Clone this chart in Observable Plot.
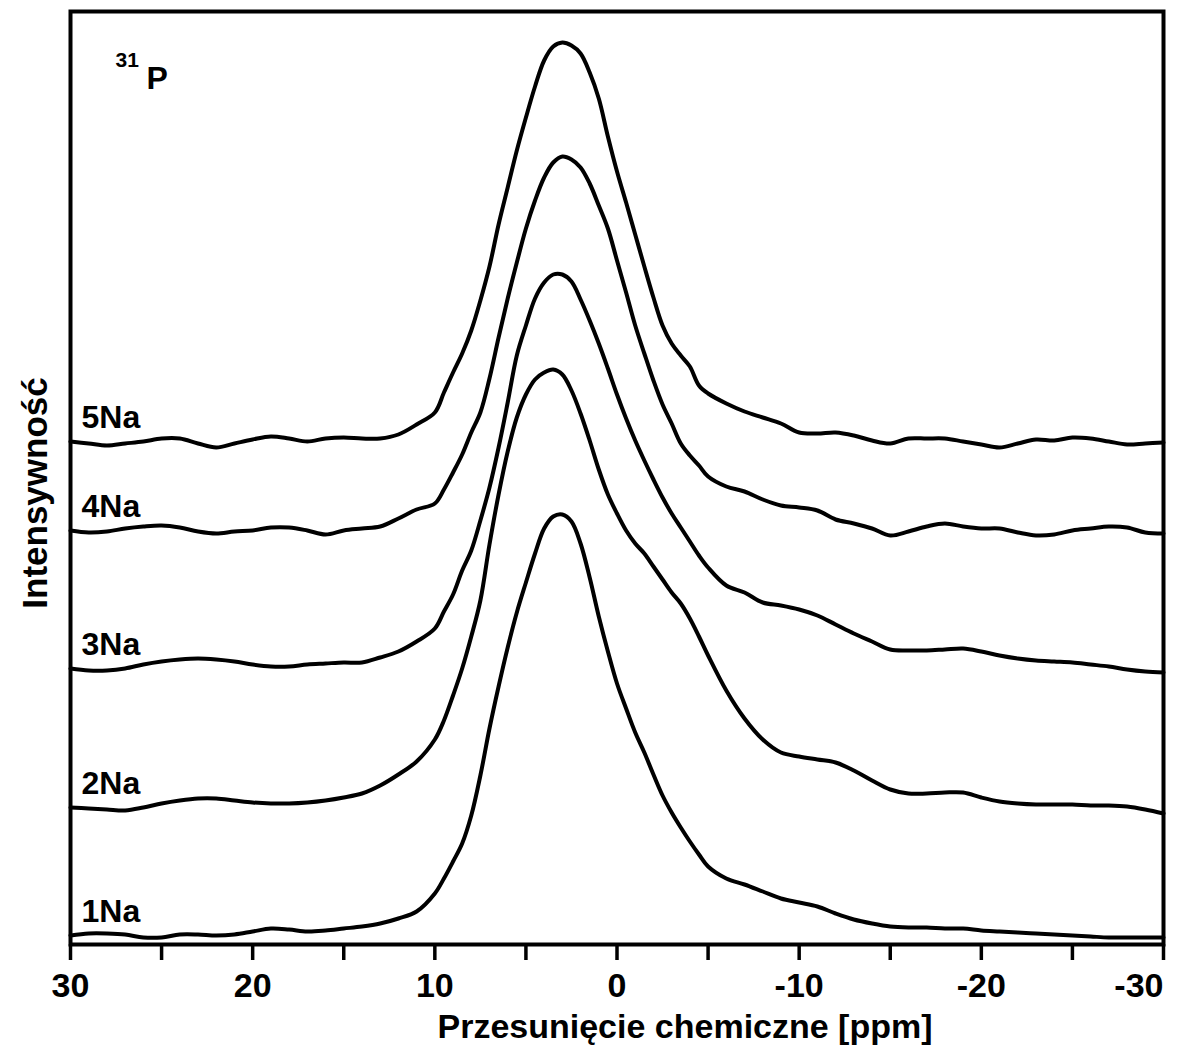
<!DOCTYPE html>
<html>
<head>
<meta charset="utf-8">
<script src="https://cdn.jsdelivr.net/npm/d3@7"></script>
<script src="https://cdn.jsdelivr.net/npm/@observablehq/plot@0.6"></script>
<style>
  body { margin: 0; background: #fff; }
  svg { display: block; }
</style>
</head>
<body>
<div id="chart"></div>
<script>
// Chemical shift grid (ppm)
const ppm = [30,29,28,27,26,25,24,23,22,21,20,19,18,17,16,15,14,13,12,11,10,
  9.5,9,8.5,8,7.5,7,6.5,6,5.5,5,4.5,4,3.5,3,2.5,2,1.5,1,0.5,0,-0.5,-1,-1.5,-2,-2.5,-3,-3.5,-4,-4.5,-5,
  -6,-7,-8,-9,-10,-11,-12,-13,-14,-15,-16,-17,-18,-19,-20,-21,-22,-23,-24,-25,-26,-27,-28,-29,-30];

// Stacked 31P spectra, intensity in arbitrary units (offset included)
const na5 = [503,501,499,501,503,506,506,501,497,501,505,508,506,503,506,507,506,506,510,520,532,
  552,572,591,614,644,678,720,757,794,827,858,884,898,902,899,891,872,846,808,773,742,710,678,647,619,601,589,578,559,551,
  541,533,527,521,512,511,512,509,504,501,506,506,506,503,500,497,501,505,504,507,506,503,500,501,502];
const na4 = [414,412,413,416,418,419,417,413,411,413,414,417,417,414,410,414,416,418,426,435,441,
  455,472,490,512,532,566,607,646,682,716,744,767,782,788,785,777,761,739,716,684,652,619,591,564,540,521,501,489,479,468,
  458,453,445,439,437,434,425,421,416,409,413,418,421,418,416,416,412,409,410,414,416,418,417,412,411];
const na3 = [276,274,274,276,280,283,285,286,285,283,280,278,278,280,281,282,282,287,293,303,316,
  333,350,374,394,424,457,497,542,589,619,646,662,670,670,663,645,624,601,576,550,526,504,484,465,447,431,417,403,389,377,
  359,352,342,339,335,329,320,311,303,295,294,294,295,296,293,289,286,284,283,282,280,278,275,273,272];
const na2 = [137,136,135,134,137,141,144,146,146,144,142,141,141,142,144,147,151,159,170,183,205,
  224,249,276,308,344,400,450,493,527,550,565,572,575,570,554,531,504,475,450,431,414,401,391,378,365,352,341,326,308,289,
  254,226,205,192,188,185,182,174,164,155,151,151,152,152,147,143,141,140,140,140,139,139,138,135,131];
const na1 = [9,11,11,10,7,7,10,10,9,10,13,16,15,13,14,16,18,21,26,33,51,
  66,83,101,129,169,216,258,297,332,362,391,416,428,430,423,401,367,328,293,261,236,212,192,170,149,132,117,103,90,78,
  66,60,53,46,42,38,31,25,21,18,17,17,16,16,14,13,12,11,10,9,8,7,7,7,7];

const seriesNames = ["1Na", "2Na", "3Na", "4Na", "5Na"];
const seriesValues = {"1Na": na1, "2Na": na2, "3Na": na3, "4Na": na4, "5Na": na5};

const xTicks = [30,25,20,15,10,5,0,-5,-10,-15,-20,-25,-30];
const xTickLabels = ["30","","20","","10","","0","","-10","","-20","","-30"];

const xTitle = "Przesunięcie chemiczne [ppm]";
const yTitle = "Intensywność";
const nucleusMass = "31";
const nucleusSymbol = "P";

const rows = seriesNames.flatMap(s => ppm.map((p, i) => ({ppm: p, intensity: seriesValues[s][i], series: s})));

const lastTick = xTicks[xTicks.length - 1];
const tickLabel = d => xTickLabels[xTicks.indexOf(d)];

const font = "'Liberation Sans', Arial, Helvetica, sans-serif";

const chart = Plot.plot({
  width: 1178,
  height: 1053,
  marginLeft: 70,
  marginRight: 15,
  marginTop: 11,
  marginBottom: 109,
  style: {fontFamily: font, background: "white", color: "black"},
  x: {domain: [30, -30]},
  y: {domain: [0, 933], axis: null},
  marks: [
    Plot.line(rows, {x: "ppm", y: "intensity", z: "series", stroke: "black", strokeWidth: 4,
      curve: "catmull-rom", strokeLinejoin: "round", strokeLinecap: "round"}),
    Plot.frame({stroke: "black", strokeWidth: 4}),
    Plot.axisX({ticks: xTicks, tickFormat: d => d === lastTick ? "" : tickLabel(d), tickSize: 16, tickPadding: 12,
      fontSize: 34, fontWeight: "bold", strokeWidth: 3.5, label: null, fill: "black"}),
    Plot.text([lastTick], {x: d => d, text: tickLabel, frameAnchor: "bottom", dy: 28, textAnchor: "end",
      lineAnchor: "top", fontSize: 34, fontWeight: "bold", fill: "black"}),
    Plot.text([xTitle], {text: d => d, frameAnchor: "bottom", dx: 68, dy: 83, fontSize: 34, fontWeight: "bold",
      textAnchor: "middle", lineAnchor: "middle", fill: "black"}),
    Plot.text([yTitle], {text: d => d, frameAnchor: "left", dx: -35, dy: 15, rotate: -90, fontSize: 35,
      fontWeight: "bold", textAnchor: "middle", lineAnchor: "middle", fill: "black"}),
    Plot.text([nucleusMass], {text: d => d, frameAnchor: "top-left", dx: 45, dy: 55, textAnchor: "start",
      lineAnchor: "bottom", fontSize: 21, fontWeight: "bold", fill: "black"}),
    Plot.text([nucleusSymbol], {text: d => d, frameAnchor: "top-left", dx: 76, dy: 77, textAnchor: "start",
      lineAnchor: "bottom", fontSize: 32, fontWeight: "bold", fill: "black"}),
    Plot.text(seriesNames, {text: d => d, x: () => ppm[0], y: s => seriesValues[s][0], dx: 11, dy: -14,
      textAnchor: "start", lineAnchor: "bottom", fontSize: 32, fontWeight: "bold", fill: "black"})
  ]
});

document.getElementById("chart").appendChild(chart);
</script>
</body>
</html>
